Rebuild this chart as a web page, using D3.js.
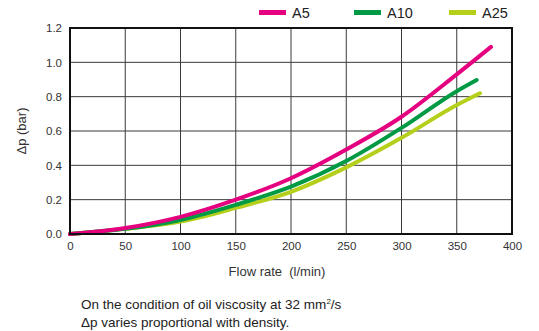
<!DOCTYPE html>
<html><head><meta charset="utf-8">
<script src="https://cdn.jsdelivr.net/npm/d3@7"></script>
<style>body{margin:0;background:#fff}svg{display:block;font-family:"Liberation Sans",Arial,sans-serif}</style>
</head><body><svg id="c" width="539" height="331"></svg>
<script>
const flow = [0, 50, 100, 150, 200, 250, 300, 350];
const seriesNames = ["A5", "A10", "A25"];
const a5 = [0, 0.035, 0.1, 0.2, 0.325, 0.492, 0.683, 0.93];
const a10 = [0, 0.03, 0.082, 0.17, 0.276, 0.425, 0.618, 0.832];
const a25 = [0, 0.03, 0.072, 0.152, 0.246, 0.388, 0.56, 0.751];
const endFlow = [381, 368, 371];
const endDp = [1.09, 0.897, 0.82];
const xTicks = [0, 50, 100, 150, 200, 250, 300, 350, 400];
const yTicks = [0, 0.2, 0.4, 0.6, 0.8, 1.0, 1.2];
const colors = ["#e4007f", "#009a44", "#b5cf1b"];

const svg = d3.select("#c");
const L = 70, R = 512, T = 28, B = 234;
const x = d3.scaleLinear().domain([0, 400]).range([L, R]);
const y = d3.scaleLinear().domain([0, 1.2]).range([B, T]);

// grid
const g = svg.append("g");
g.selectAll(".vx").data(xTicks.slice(1, -1)).enter().append("line")
  .attr("x1", d => x(d)).attr("x2", d => x(d)).attr("y1", T).attr("y2", B)
  .attr("stroke", "#3a3a3a").attr("stroke-width", 1);
g.selectAll(".hy").data(yTicks.slice(1, -1)).enter().append("line")
  .attr("x1", L).attr("x2", R).attr("y1", d => y(d)).attr("y2", d => y(d))
  .attr("stroke", "#3a3a3a").attr("stroke-width", 1);

// series
const all = [a5, a10, a25].map((arr, i) => {
  const pts = flow.map((f, j) => [f, arr[j]]);
  pts.push([endFlow[i], endDp[i]]);
  return pts;
});
const line = d3.line().x(d => x(d[0])).y(d => y(d[1])).curve(d3.curveMonotoneX);
[2, 1, 0].forEach(i => {
  svg.append("path").attr("d", line(all[i])).attr("fill", "none")
    .attr("stroke", colors[i]).attr("stroke-width", 4).attr("stroke-linecap", "round");
});

// border
svg.append("rect").attr("x", L).attr("y", T).attr("width", R - L).attr("height", B - T)
  .attr("fill", "none").attr("stroke", "#111").attr("stroke-width", 2);

// axes labels
const xa = d3.axisBottom(x).tickValues(xTicks).tickSize(0).tickPadding(8).tickFormat(d3.format("d"));
const xg = svg.append("g").attr("transform", `translate(0,${B})`).call(xa);
const ya = d3.axisLeft(y).tickValues(yTicks).tickSize(0).tickPadding(8).tickFormat(d3.format(".1f"));
const yg = svg.append("g").attr("transform", `translate(${L},0)`).call(ya);
[xg, yg].forEach(a => {
  a.select(".domain").remove();
  a.selectAll("text").attr("font-size", 11.5).attr("fill", "#333").attr("font-family", "Liberation Sans, Arial, sans-serif");
});

svg.append("text").attr("x", 277).attr("y", 276).attr("text-anchor", "middle")
  .attr("font-size", 13).attr("fill", "#333").attr("xml:space", "preserve").text("Flow rate  (l/min)");
svg.append("text").attr("transform", `translate(26,131) rotate(-90)`).attr("text-anchor", "middle")
  .attr("font-size", 13).attr("fill", "#333").text("Δp (bar)");

// legend
const lx = [259, 354, 449];
seriesNames.forEach((n, i) => {
  svg.append("rect").attr("x", lx[i]).attr("y", 10).attr("width", 27).attr("height", 5).attr("fill", colors[i]);
  svg.append("text").attr("x", lx[i] + 33).attr("y", 18).attr("font-size", 14.5).attr("fill", "#222").text(n);
});

// footnote
const f1 = svg.append("text").attr("x", 81).attr("y", 309).attr("font-size", 13.5).attr("fill", "#222");
f1.append("tspan").text("On the condition of oil viscosity at 32 mm");
f1.append("tspan").attr("dy", -5).attr("font-size", 8).text("2");
f1.append("tspan").attr("dy", 5).text("/s");
svg.append("text").attr("x", 81).attr("y", 327).attr("font-size", 13.5).attr("fill", "#222").text("Δp varies proportional with density.");
</script></body></html>
